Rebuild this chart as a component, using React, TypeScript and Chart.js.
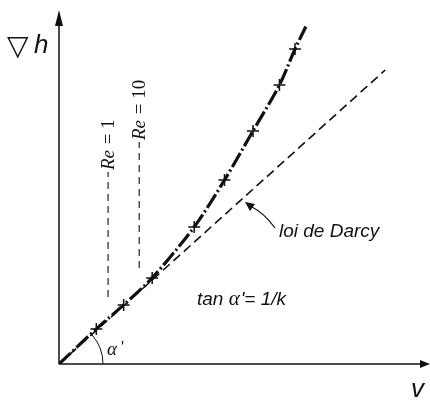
import React, { useEffect, useRef } from "react";
import { Chart, registerables } from "chart.js";

Chart.register(...registerables);

// Experimental curve (non-Darcy regime)
const curveX = [0, 1.27, 2.2, 3.17, 4.6, 5.63, 6.6, 7.5, 8.03, 8.4];
const curveY = [0, 1.17, 1.97, 2.87, 4.57, 6.13, 7.77, 9.3, 10.5, 11.25];
// Measured points (+)
const markerX = [1.27, 2.2, 3.17, 4.6, 5.63, 6.6, 7.5, 8.03];
const markerY = [1.17, 1.97, 2.87, 4.57, 6.13, 7.77, 9.3, 10.5];
// Darcy law line
const darcyX = [0, 11.1];
const darcyY = [0, 9.8];
// Reynolds limits
const reX = [1.67, 2.73];
const reYLow = [2.23, 3.2];
const reYHigh = [6.4, 7.4];
const reLabels = ["1", "10"];

const X_MAX = 12.367;
const Y_MAX = 11.8;

const INK = "#111";

const overlay = {
  id: "overlay",
  beforeDatasetsDraw(chart: any) {
    const ctx = chart.ctx as CanvasRenderingContext2D;
    const xs = chart.scales.x;
    const ys = chart.scales.y;
    const x0 = xs.getPixelForValue(0);
    const y0 = ys.getPixelForValue(0);
    ctx.save();
    ctx.strokeStyle = INK;
    ctx.fillStyle = INK;
    ctx.lineWidth = 1.5;
    // y axis
    ctx.beginPath();
    ctx.moveTo(x0, y0);
    ctx.lineTo(x0, 20);
    ctx.stroke();
    ctx.beginPath();
    ctx.moveTo(x0, 10);
    ctx.lineTo(x0 - 4, 26);
    ctx.lineTo(x0 + 4, 26);
    ctx.closePath();
    ctx.fill();
    // x axis
    ctx.beginPath();
    ctx.moveTo(x0, y0);
    ctx.lineTo(422, y0);
    ctx.stroke();
    ctx.beginPath();
    ctx.moveTo(430, y0);
    ctx.lineTo(420, y0 - 4);
    ctx.lineTo(420, y0 + 4);
    ctx.closePath();
    ctx.fill();
    ctx.restore();
  },
  afterDatasetsDraw(chart: any) {
    const ctx = chart.ctx as CanvasRenderingContext2D;
    const xs = chart.scales.x;
    const ys = chart.scales.y;
    const x0 = xs.getPixelForValue(0);
    const y0 = ys.getPixelForValue(0);
    ctx.save();
    ctx.fillStyle = INK;
    ctx.strokeStyle = INK;

    // axis titles
    ctx.textBaseline = "alphabetic";
    ctx.textAlign = "left";
    ctx.font = "28px 'DejaVu Sans'";
    ctx.fillText("▽", 7, 55);
    ctx.font = "italic 26px 'Liberation Sans'";
    ctx.fillText("h", 34, 53);
    ctx.font = "italic 26px 'Liberation Sans'";
    ctx.fillText("v", 411, 397);

    // Re labels (rotated)
    for (let i = 0; i < reX.length; i++) {
      const px = xs.getPixelForValue(reX[i]);
      const py = ys.getPixelForValue(reYHigh[i]) - 2;
      ctx.save();
      ctx.translate(px, py);
      ctx.rotate(-Math.PI / 2);
      ctx.textBaseline = "middle";
      ctx.textAlign = "left";
      ctx.font = "italic 19px 'Liberation Serif'";
      ctx.fillText("Re", 0, 1);
      const w = ctx.measureText("Re").width;
      ctx.font = "19px 'Liberation Serif'";
      ctx.fillText(" = " + reLabels[i], w + 1, 1);
      ctx.restore();
    }

    // angle arc
    const slope = (ys.getPixelForValue(0) - ys.getPixelForValue(darcyY[1])) /
      (xs.getPixelForValue(darcyX[1]) - x0);
    const ang = Math.atan(slope);
    ctx.lineWidth = 1;
    ctx.beginPath();
    ctx.arc(x0, y0, 44, -ang, 0);
    ctx.stroke();
    ctx.font = "italic 19px 'Liberation Serif'";
    ctx.fillText("α", 107, 355);
    ctx.font = "16px 'Liberation Sans'";
    ctx.fillText("'", 121, 353);

    // loi de Darcy annotation
    ctx.font = "italic 19px 'Liberation Sans'";
    ctx.fillText("loi de Darcy", 279, 237);
    ctx.lineWidth = 1.2;
    ctx.beginPath();
    ctx.moveTo(275, 228);
    ctx.quadraticCurveTo(264, 213, 252, 207);
    ctx.stroke();
    ctx.beginPath();
    ctx.moveTo(245, 202);
    ctx.lineTo(255, 204);
    ctx.lineTo(250, 211);
    ctx.closePath();
    ctx.fill();

    // tan alpha' = 1/k
    ctx.font = "italic 19px 'Liberation Sans'";
    ctx.fillText("tan ", 197, 305);
    let tx = 197 + ctx.measureText("tan ").width;
    ctx.font = "italic 21px 'Liberation Serif'";
    ctx.fillText("α", tx, 305);
    tx += ctx.measureText("α").width + 1;
    ctx.font = "italic 19px 'Liberation Sans'";
    ctx.fillText("'= 1/k", tx, 305);

    ctx.restore();
  },
};

export default function App() {
  const ref = useRef<HTMLCanvasElement | null>(null);
  useEffect(() => {
    if (!ref.current) return;
    const chart = new Chart(ref.current, {
      type: "scatter",
      data: {
        datasets: [
          {
            label: "darcy",
            data: darcyX.map((x, i) => ({ x, y: darcyY[i] })),
            showLine: true,
            borderColor: INK,
            borderWidth: 1.6,
            borderDash: [9, 5],
            pointRadius: 0,
          },
          {
            label: "curve",
            data: curveX.map((x, i) => ({ x, y: curveY[i] })),
            showLine: true,
            borderColor: INK,
            borderWidth: 3.2,
            borderDash: [16, 3, 2, 3],
            tension: 0.3,
            pointRadius: 0,
          },
          {
            label: "points",
            data: markerX.map((x, i) => ({ x, y: markerY[i] })),
            showLine: false,
            pointStyle: "cross",
            pointRadius: 6,
            borderColor: INK,
            borderWidth: 1.5,
          },
          ...reX.map((x, i) => ({
            label: "Re" + reLabels[i],
            data: [
              { x, y: reYLow[i] },
              { x, y: reYHigh[i] },
            ],
            showLine: true,
            borderColor: "#333",
            borderWidth: 1.3,
            borderDash: [7, 5],
            pointRadius: 0,
          })),
        ],
      },
      options: {
        responsive: false,
        animation: false,
        layout: { padding: { left: 59, right: 0, top: 10, bottom: 37 } },
        scales: {
          x: { type: "linear", min: 0, max: X_MAX, display: false },
          y: { type: "linear", min: 0, max: Y_MAX, display: false },
        },
        plugins: {
          legend: { display: false },
          tooltip: { enabled: false },
        },
      },
      plugins: [overlay],
    });
    return () => chart.destroy();
  }, []);
  return (
    <div style={{ position: "fixed", left: 0, top: 0, width: 430, height: 401, background: "#fff" }}>
      <canvas ref={ref} width={430} height={401} style={{ display: "block" }} />
    </div>
  );
}
